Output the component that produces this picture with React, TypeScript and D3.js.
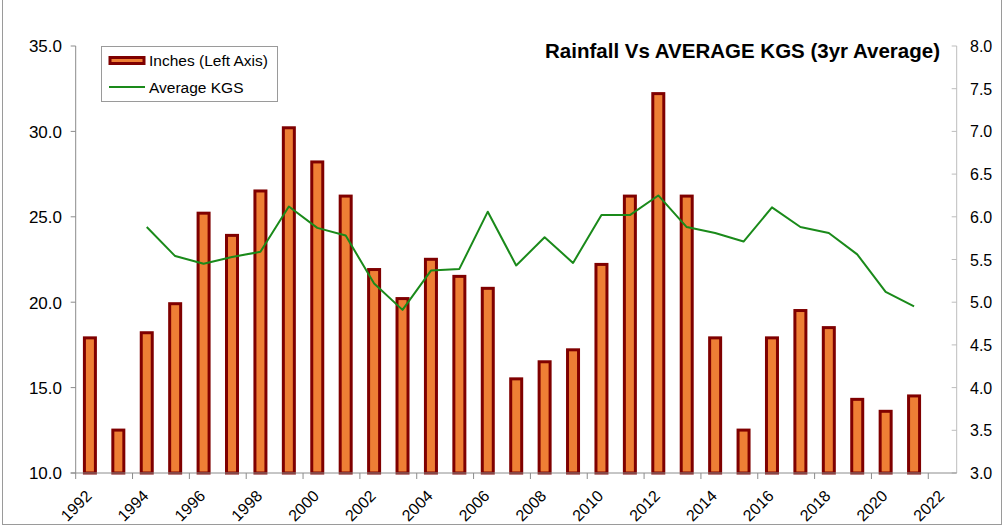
import React from "react";
import * as d3 from "d3";

const years = [1992,1993,1994,1995,1996,1997,1998,1999,2000,2001,2002,2003,2004,2005,2006,2007,2008,2009,2010,2011,2012,2013,2014,2015,2016,2017,2018,2019,2020,2021];
const inches = [18.0,12.6,18.3,20.0,25.3,24.0,26.6,30.3,28.3,26.3,22.0,20.3,22.6,21.6,20.9,15.6,16.6,17.3,22.3,26.3,32.3,26.3,18.0,12.6,18.0,19.6,18.6,14.4,13.7,14.6];
const kgsYears = [1994,1995,1996,1997,1998,1999,2000,2001,2002,2003,2004,2005,2006,2007,2008,2009,2010,2011,2012,2013,2014,2015,2016,2017,2018,2019,2020,2021];
const kgs = [5.88,5.54,5.45,5.53,5.59,6.12,5.87,5.78,5.22,4.91,5.37,5.39,6.06,5.43,5.76,5.46,6.02,6.02,6.25,5.88,5.81,5.71,6.11,5.88,5.81,5.56,5.12,4.95];
const leftTicks = [10,15,20,25,30,35];
const rightTicks = [3,3.5,4,4.5,5,5.5,6,6.5,7,7.5,8];
const xTicks = [1992,1994,1996,1998,2000,2002,2004,2006,2008,2010,2012,2014,2016,2018,2020,2022];
const title = "Rainfall Vs AVERAGE KGS (3yr Average)";
const legendLabels = ["Inches (Left Axis)", "Average KGS"];

const W = 1004, H = 526;
const FONT = "'Liberation Sans', Arial, sans-serif";
const ORANGE = "#EE7F35";
const DARKRED = "#7F0000";
const GREEN = "#1A8A1A";

export default function App() {
  const x = d3.scaleLinear().domain([1992, 2023]).range([75.7, 956.7]);
  const yL = d3.scaleLinear().domain([10, 35]).range([473, 46]);
  const yR = d3.scaleLinear().domain([3, 8]).range([473, 46]);
  const barW = 11;
  const line = d3.line<number>()
    .x((_, i) => x(kgsYears[i] + 0.5))
    .y((d) => yR(d));

  return (
    <svg width={W} height={H} style={{ position: "absolute", left: 0, top: 0, background: "#fff" }} fontFamily={FONT}>
      <rect x={0} y={0} width={W} height={H} fill="#fff" />
      {/* outer border */}
      <rect x={2.5} y={-3} width={999} height={527.5} fill="none" stroke="#9a9a9a" strokeWidth={1} />

      {/* bars */}
      {years.map((yr, i) => {
        const top = yL(inches[i]);
        const bottom = yL(10);
        return (
          <rect key={yr} x={x(yr + 0.5) - barW / 2} y={top + 1.5} width={barW} height={bottom - top - 1.5}
            fill={ORANGE} stroke={DARKRED} strokeWidth={3} />
        );
      })}

      {/* line */}
      <path d={line(kgs) || ""} fill="none" stroke={GREEN} strokeWidth={2} strokeLinejoin="round" />

      {/* left axis */}
      <line x1={x(1992)} x2={x(1992)} y1={yL(35)} y2={yL(10)} stroke="#8c8c8c" />
      {leftTicks.map((t) => (
        <g key={t}>
          <line x1={x(1992) - 5} x2={x(1992)} y1={yL(t)} y2={yL(t)} stroke="#8c8c8c" />
          <text x={62} y={yL(t)} dy="0.38em" textAnchor="end" fontSize={17} fill="#000">{t.toFixed(1)}</text>
        </g>
      ))}

      {/* right axis */}
      <line x1={956.7} x2={956.7} y1={yR(8)} y2={yR(3)} stroke="#bdbdbd" />
      {rightTicks.map((t) => (
        <g key={t}>
          <line x1={951.7} x2={956.7} y1={yR(t)} y2={yR(t)} stroke="#bdbdbd" />
          <text x={970} y={yR(t)} dy="0.38em" textAnchor="start" fontSize={16} fill="#000">{t.toFixed(1)}</text>
        </g>
      ))}

      {/* x axis */}
      <line x1={x(1992) - 5} x2={956.7} y1={yL(10)} y2={yL(10)} stroke="#8c8c8c" />
      {xTicks.map((t) => (
        <g key={t}>
          <line x1={x(t)} x2={x(t)} y1={yL(10)} y2={yL(10) + 6} stroke="#8c8c8c" />
          <text transform={`translate(${x(t) + 17},${497}) rotate(-45)`} textAnchor="end" fontSize={16} fill="#000">{t}</text>
        </g>
      ))}

      {/* title */}
      <text x={940} y={58} textAnchor="end" fontSize={20.5} fontWeight="bold" fill="#000">{title}</text>

      {/* legend */}
      <rect x={101.5} y={46.5} width={176} height={55} fill="#fff" stroke="#9a9a9a" />
      <rect x={110} y={57.5} width={34} height={6} fill={ORANGE} stroke={DARKRED} strokeWidth={3} />
      <text x={149} y={66} fontSize={15.5} fill="#000">{legendLabels[0]}</text>
      <line x1={109} x2={145} y1={87} y2={87} stroke={GREEN} strokeWidth={2} />
      <text x={149} y={92.5} fontSize={15.5} fill="#000">{legendLabels[1]}</text>
    </svg>
  );
}
